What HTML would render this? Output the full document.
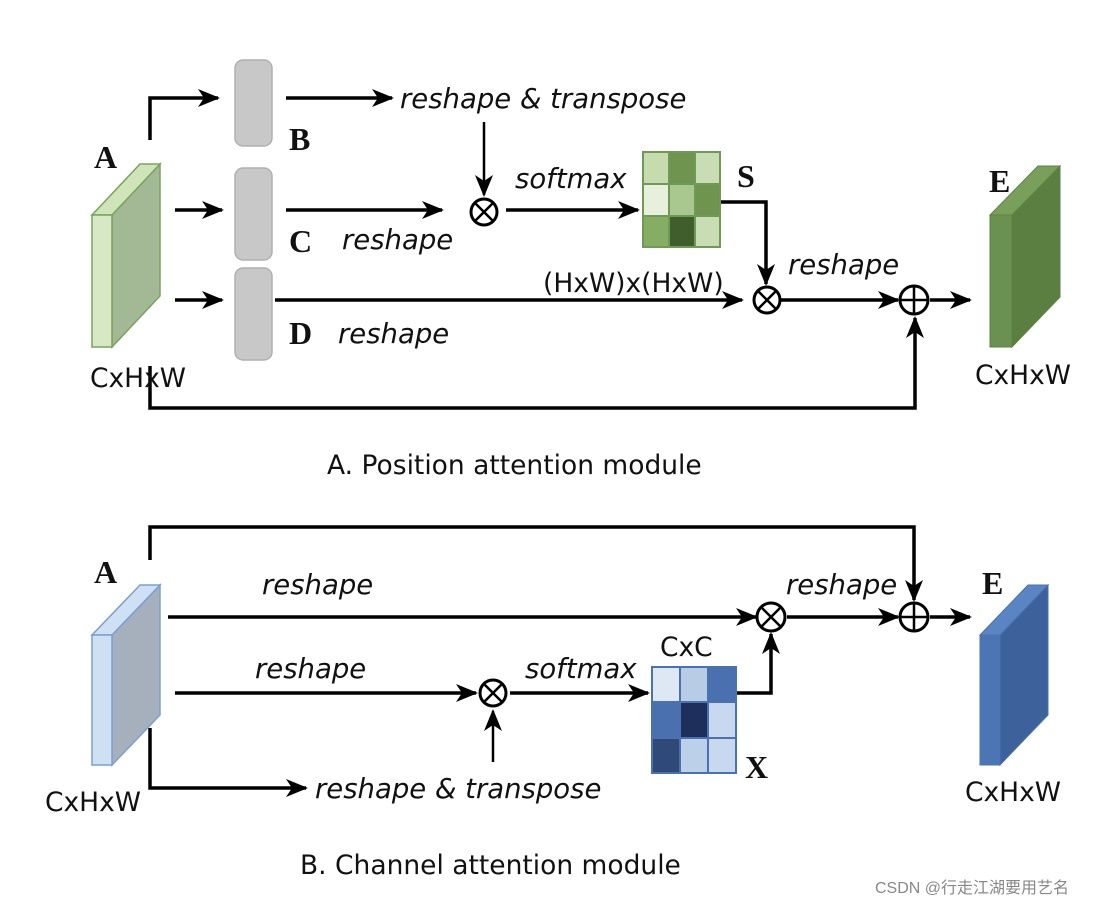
<!DOCTYPE html>
<html><head><meta charset="utf-8"><style>
html,body{margin:0;padding:0;background:#fff;}
svg{display:block;}
.it{font-family:"DejaVu Sans","Liberation Sans",sans-serif;font-style:italic;font-size:27.5px;fill:#111;}
.up{font-family:"DejaVu Sans","Liberation Sans",sans-serif;font-size:26.5px;fill:#111;}
.bl{font-family:"Liberation Serif",serif;font-weight:bold;font-size:32px;fill:#111;}
</style></head><body>
<svg width="1120" height="904" viewBox="0 0 1120 904" xmlns="http://www.w3.org/2000/svg">
<defs>
<marker id="ab" markerWidth="22" markerHeight="18" refX="20" refY="9" orient="auto" markerUnits="userSpaceOnUse">
<path d="M0,0 L22,9 L0,18 L6,9 z" fill="#000"/>
</marker>
</defs>
<g stroke="#000" stroke-width="3.5" fill="none">
<polyline points="150,140 150,98 218,98" marker-end="url(#ab)"/>
<line x1="286" y1="98" x2="392" y2="98" marker-end="url(#ab)"/>
<line x1="484" y1="122" x2="484" y2="195" stroke-width="2.5" marker-end="url(#ab)"/>
<line x1="175" y1="210" x2="222" y2="210" marker-end="url(#ab)"/>
<line x1="286" y1="210" x2="442" y2="210" marker-end="url(#ab)"/>
<line x1="506" y1="210" x2="638" y2="210" marker-end="url(#ab)"/>
<polyline points="720,202 766,202 766,284" marker-end="url(#ab)"/>
<line x1="175" y1="300" x2="222" y2="300" marker-end="url(#ab)"/>
<line x1="275" y1="300" x2="742" y2="300" marker-end="url(#ab)"/>
<line x1="781" y1="300" x2="898" y2="300" marker-end="url(#ab)"/>
<line x1="930" y1="300" x2="970" y2="300" marker-end="url(#ab)"/>
<polyline points="150,366 150,408 915,408 915,318" marker-end="url(#ab)"/>
<polyline points="150,560 150,527 914,527 914,600" marker-end="url(#ab)"/>
<line x1="168" y1="617" x2="756" y2="617" marker-end="url(#ab)"/>
<line x1="787" y1="617" x2="898" y2="617" marker-end="url(#ab)"/>
<line x1="930" y1="617" x2="970" y2="617" marker-end="url(#ab)"/>
<line x1="175" y1="693" x2="476" y2="693" marker-end="url(#ab)"/>
<line x1="493" y1="762" x2="493" y2="711" stroke-width="2.5" marker-end="url(#ab)"/>
<line x1="510" y1="693" x2="648" y2="693" marker-end="url(#ab)"/>
<polyline points="736,693 771,693 771,634" marker-end="url(#ab)"/>
<polyline points="150,728 150,788 306,788" marker-end="url(#ab)"/>
</g>
<g stroke="#000" stroke-width="3" fill="#fff">
<circle cx="484" cy="212" r="13"/>
<circle cx="767" cy="300" r="13"/>
<circle cx="914" cy="300" r="14"/>
<circle cx="771" cy="617" r="14"/>
<circle cx="914" cy="617" r="14"/>
<circle cx="493" cy="693" r="13"/>
</g>
<g stroke="#000" stroke-width="2.5">
<path d="M475,203 L493,221 M493,203 L475,221"/>
<path d="M758,291 L776,309 M776,291 L758,309"/>
<path d="M761,607 L781,627 M781,607 L761,627"/>
<path d="M484,684 L502,702 M502,684 L484,702"/>
<path d="M900,300 L928,300 M914,286 L914,314"/>
<path d="M900,617 L928,617 M914,603 L914,631"/>
</g>
<g fill="#c8c8c8" stroke="#b0b0b0" stroke-width="1.5">
<rect x="235" y="60" width="37" height="86" rx="8"/>
<rect x="235" y="168" width="37" height="92" rx="8"/>
<rect x="235" y="268" width="37" height="92" rx="8"/>
</g>
<g stroke="#7aa35e" stroke-width="1.5">
<polygon points="112,215 160,164 160,296 112,347" fill="#a3b894"/>
<polygon points="92,215 112,215 160,164 140,164" fill="#cfe4b8"/>
<rect x="92" y="215" width="20" height="132" fill="#d6e9c4"/>
</g>
<g stroke="#5d8243" stroke-width="1">
<polygon points="1012,215 1060,166 1060,297 1012,347" fill="#5b7f40"/>
<polygon points="990,215 1012,215 1060,166 1038,166" fill="#78a05a"/>
<rect x="990" y="215" width="22" height="132" fill="#6b9150"/>
</g>
<g stroke="#7aa0d0" stroke-width="1.5">
<polygon points="112,635 160,585 160,715 112,765" fill="#a6b0bd"/>
<polygon points="92,635 112,635 160,585 140,585" fill="#cfe0f4"/>
<rect x="92" y="635" width="20" height="130" fill="#cfe0f2"/>
</g>
<g stroke="#4a72b0" stroke-width="1">
<polygon points="1000,635 1048,585 1048,715 1000,765" fill="#3d619b"/>
<polygon points="980,635 1000,635 1048,585 1028,585" fill="#5a84c4"/>
<rect x="980" y="635" width="20" height="130" fill="#4b75b5"/>
</g>
<g stroke="#6f9a55" stroke-width="2">
<rect x="643" y="152" width="26" height="32" fill="#c6dcae"/>
<rect x="669" y="152" width="26" height="32" fill="#6f9450"/>
<rect x="695" y="152" width="25" height="32" fill="#c9ddb4"/>
<rect x="643" y="184" width="26" height="32" fill="#e6f0dc"/>
<rect x="669" y="184" width="26" height="32" fill="#a8c890"/>
<rect x="695" y="184" width="25" height="32" fill="#6f9450"/>
<rect x="643" y="216" width="26" height="31" fill="#86ad64"/>
<rect x="669" y="216" width="26" height="31" fill="#3f5e2c"/>
<rect x="695" y="216" width="25" height="31" fill="#c9ddb4"/>
</g>
<g stroke="#4a72b0" stroke-width="2">
<rect x="652" y="667" width="28" height="35" fill="#dde8f4"/>
<rect x="680" y="667" width="28" height="35" fill="#b8cce6"/>
<rect x="708" y="667" width="28" height="35" fill="#4a70b0"/>
<rect x="652" y="702" width="28" height="36" fill="#4a70b0"/>
<rect x="680" y="702" width="28" height="36" fill="#1e2f5a"/>
<rect x="708" y="702" width="28" height="36" fill="#c8d8ee"/>
<rect x="652" y="738" width="28" height="35" fill="#2f4a78"/>
<rect x="680" y="738" width="28" height="35" fill="#bcd0ea"/>
<rect x="708" y="738" width="28" height="35" fill="#c8d8ee"/>
</g>
<text class="bl" x="94" y="168">A</text>
<text class="bl" x="289" y="150">B</text>
<text class="bl" x="289" y="252">C</text>
<text class="bl" x="289" y="344">D</text>
<text class="bl" x="737" y="187">S</text>
<text class="bl" x="989" y="192">E</text>
<text class="bl" x="94" y="583">A</text>
<text class="bl" x="745" y="778">X</text>
<text class="bl" x="982" y="594">E</text>
<text class="it" x="400" y="108">reshape &amp; transpose</text>
<text class="it" x="515" y="188">softmax</text>
<text class="it" x="342" y="249">reshape</text>
<text class="it" x="338" y="343">reshape</text>
<text class="it" x="788" y="274">reshape</text>
<text class="up" x="543" y="292">(HxW)x(HxW)</text>
<text class="up" x="90" y="387">CxHxW</text>
<text class="up" x="975" y="384">CxHxW</text>
<text class="up" x="327" y="474">A. Position attention module</text>
<text class="it" x="262" y="594">reshape</text>
<text class="it" x="786" y="594">reshape</text>
<text class="it" x="255" y="678">reshape</text>
<text class="it" x="525" y="678">softmax</text>
<text class="up" x="660" y="656">CxC</text>
<text class="it" x="315" y="798">reshape &amp; transpose</text>
<text class="up" x="45" y="811">CxHxW</text>
<text class="up" x="965" y="801">CxHxW</text>
<text class="up" x="300" y="874">B. Channel attention module</text>
<text x="875" y="893" style="font-family:'Liberation Sans','Noto Sans CJK SC',sans-serif;font-size:16px;fill:#888;">CSDN @行走江湖要用艺名</text>
</svg>
</body></html>
